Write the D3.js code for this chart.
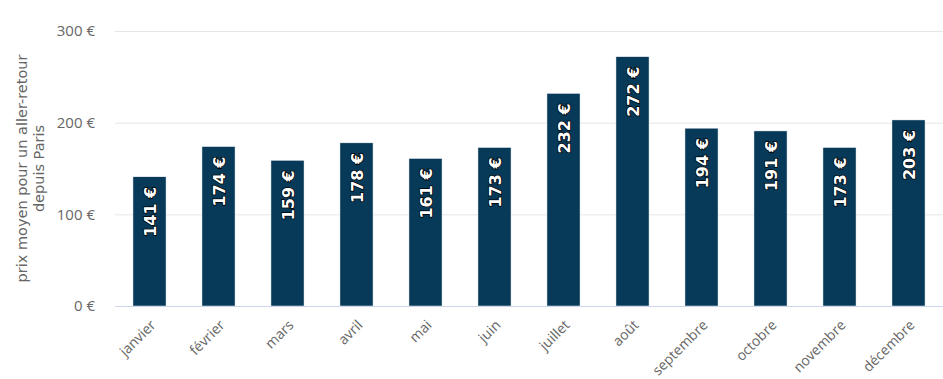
<!DOCTYPE html>
<html>
<head>
<meta charset="utf-8">
<script src="https://cdn.jsdelivr.net/npm/d3@7"></script>
<style>
  body { margin: 0; background: #fff; }
  svg { font-family: "DejaVu Sans", Verdana, sans-serif; }
  .lbl { font-family: "Open Sans", "DejaVu Sans", sans-serif; }
</style>
</head>
<body>
<svg id="chart" width="943" height="379"></svg>
<script>
// chart data
const months = ["janvier", "février", "mars", "avril", "mai", "juin", "juillet", "août", "septembre", "octobre", "novembre", "décembre"];
const prices = [141, 174, 159, 178, 161, 173, 232, 272, 194, 191, 173, 203];
const yTicks = [0, 100, 200, 300];
const yTitle = ["prix moyen pour un aller-retour", "depuis Paris"];

const svg = d3.select("#chart");
const margin = { top: 31, right: 0, bottom: 73, left: 115 };
const width = 943 - margin.left - margin.right;
const height = 379 - margin.top - margin.bottom;

const g = svg.append("g").attr("transform", `translate(${margin.left},${margin.top})`);

const x = d3.scaleBand().domain(months).range([0, width]).paddingInner(0.52).paddingOuter(0.26);
const y = d3.scaleLinear().domain([0, 300]).range([height, 0]);

// gridlines
g.selectAll(".grid")
  .data(yTicks.filter(d => d > 0))
  .join("line")
  .attr("x1", 0).attr("x2", width)
  .attr("y1", d => y(d) + 0.5).attr("y2", d => y(d) + 0.5)
  .attr("stroke", "#e6e6e6");

// y axis labels
const yAxis = d3.axisLeft(y).tickValues(yTicks).tickSize(0).tickPadding(20).tickFormat(d => d + " €");
g.append("g").call(yAxis)
  .call(a => a.select(".domain").remove())
  .selectAll("text")
  .attr("class", "lbl")
  .attr("fill", "#666").style("font-size", "15px");

// bars
g.selectAll(".bar")
  .data(prices)
  .join("rect")
  .attr("x", (d, i) => x(months[i]))
  .attr("y", d => y(d))
  .attr("width", x.bandwidth())
  .attr("height", d => height - y(d))
  .attr("fill", "#073a58")
  .attr("stroke", "#fff")
  .attr("stroke-width", 0.5);

// x axis
const xAxis = d3.axisBottom(x).tickSize(0).tickPadding(0);
const xg = g.append("g").attr("transform", `translate(0,${height})`).call(xAxis);
xg.select(".domain").attr("stroke", "#ccd6eb").attr("d", `M0,0.5H${width}`);
xg.selectAll("text")
  .attr("class", "lbl")
  .attr("fill", "#666").style("font-size", "14px")
  .attr("text-anchor", "end")
  .attr("dy", 0)
  .attr("transform", "translate(7,20) rotate(-45)");

// value labels inside bars
g.selectAll(".val")
  .data(prices)
  .join("text")
  .attr("transform", (d, i) => `translate(${x(months[i]) + x.bandwidth() / 2 + 6},${y(d) + 10}) rotate(-90)`)
  .attr("text-anchor", "end")
  .attr("fill", "#fff")
  .attr("stroke", "#000")
  .attr("stroke-width", 1.5)
  .attr("paint-order", "stroke")
  .style("font-size", "16px")
  .style("font-weight", "bold")
  .text(d => d + " €");

// y axis title
const t = svg.append("text")
  .attr("transform", `translate(30,${margin.top + height / 2}) rotate(-90)`)
  .attr("text-anchor", "middle")
  .attr("fill", "#666")
  .style("font-size", "14.5px");
t.selectAll("tspan")
  .data(yTitle)
  .join("tspan")
  .attr("x", 0)
  .attr("dy", (d, i) => i === 0 ? "-0.2em" : "1.15em")
  .text(d => d);
</script>
</body>
</html>
